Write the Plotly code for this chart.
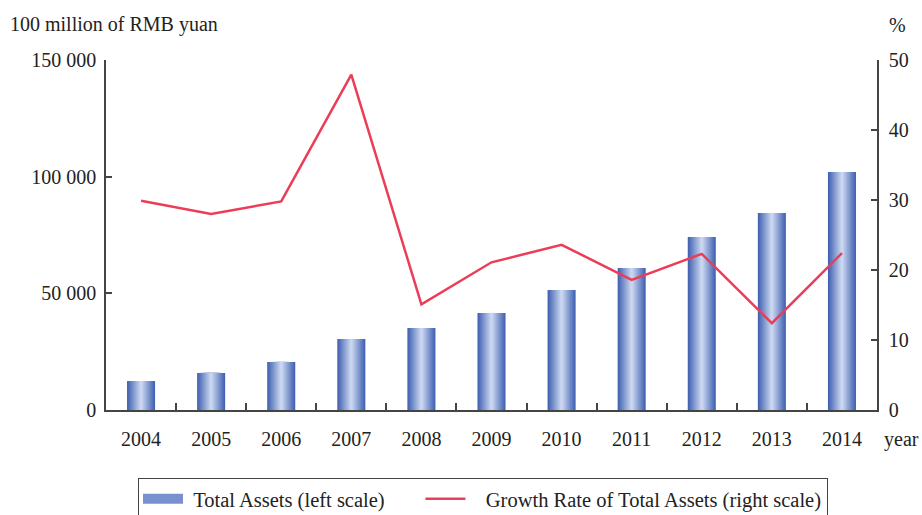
import plotly.graph_objects as go

years = ["2004", "2005", "2006", "2007", "2008", "2009", "2010", "2011", "2012", "2013", "2014"]
total_assets = [12400, 15900, 20600, 30400, 35100, 41600, 51400, 60900, 74100, 84400, 102000]
growth_rate = [29.9, 28.0, 29.8, 47.9, 15.1, 21.1, 23.6, 18.6, 22.3, 12.4, 22.4]

FONT = "Liberation Serif"
dark = (66, 98, 178)
light = (202, 215, 240)
N = 14
BW = 0.4
NB = "\u00a0"

fig = go.Figure()
# legend-only swatch for the gradient bars (rectangle-like icon)
fig.add_trace(go.Scatter(
    x=[None], y=[None], mode="lines", line=dict(color="rgb(120,145,206)", width=14),
    name=NB + "Total Assets (left scale)" + NB * 6, legendgroup="assets", showlegend=True,
    hoverinfo="skip",
))
for i in range(N):
    t = i / (N - 1)
    c = tuple(int(round(dark[k] + (light[k] - dark[k]) * t)) for k in range(3))
    w = BW * (1 - i / N)
    fig.add_trace(go.Bar(
        x=years, y=total_assets, width=w,
        marker=dict(color="rgb(%d,%d,%d)" % c, line=dict(width=0)),
        name="Total Assets (left scale)", showlegend=False,
        legendgroup="assets", yaxis="y",
    ))

fig.add_trace(go.Scatter(
    x=years, y=growth_rate, mode="lines", yaxis="y2",
    line=dict(color="#ec3d58", width=2.5),
    name=NB * 3 + "Growth Rate of Total Assets (right scale)",
))

axis_common = dict(showgrid=False, zeroline=False, showline=True, linecolor="#444", linewidth=1.5,
                   ticks="inside", ticklen=6, tickcolor="#444", tickwidth=1.5,
                   tickfont=dict(family=FONT, size=20, color="#222"))

L, R, T, B = 106, 45, 60, 105
W, H = 922, 515
pw, ph = W - L - R, H - T - B
def px(xp):
    return (xp - L) / pw
def py(yp):
    return (H - B - yp) / ph

fig.update_layout(
    width=W, height=H,
    margin=dict(l=L, r=R, t=T, b=B, autoexpand=False),
    paper_bgcolor="white", plot_bgcolor="white",
    barmode="overlay",
    font=dict(family=FONT, color="#222"),
    xaxis=dict(**{**axis_common, "ticklen": 7}, tickson="boundaries", type="category",
               ticklabelstandoff=10),
    yaxis=dict(**axis_common, range=[0, 150000], tickvals=[0, 50000, 100000, 150000],
               ticktext=["0", "50 000", "100 000", "150 000"], ticklabelstandoff=4),
    yaxis2=dict(**axis_common, range=[0, 50], tickvals=[0, 10, 20, 30, 40, 50],
                overlaying="y", side="right", ticklabelstandoff=6),
    legend=dict(orientation="h", x=px(138), xanchor="left", y=py(478), yanchor="top",
                bordercolor="#444", borderwidth=1, font=dict(family=FONT, size=20.5, color="#222"),
                itemwidth=40, tracegroupgap=0),
    annotations=[
        dict(text="100 million of RMB yuan", x=px(8), y=py(25), xref="paper", yref="paper",
             xanchor="left", yanchor="middle", showarrow=False,
             font=dict(family=FONT, size=20, color="#222")),
        dict(text="%", x=px(898), y=py(25), xref="paper", yref="paper",
             xanchor="center", yanchor="middle", showarrow=False,
             font=dict(family=FONT, size=20, color="#222")),
        dict(text="year", x=px(921), y=py(440), xref="paper", yref="paper",
             xanchor="right", yanchor="middle", showarrow=False,
             font=dict(family=FONT, size=20, color="#222")),
    ],
)

fig.write_html("out.html", config={"displayModeBar": False},
               post_script="document.body.style.margin='0';document.body.style.padding='0';")
